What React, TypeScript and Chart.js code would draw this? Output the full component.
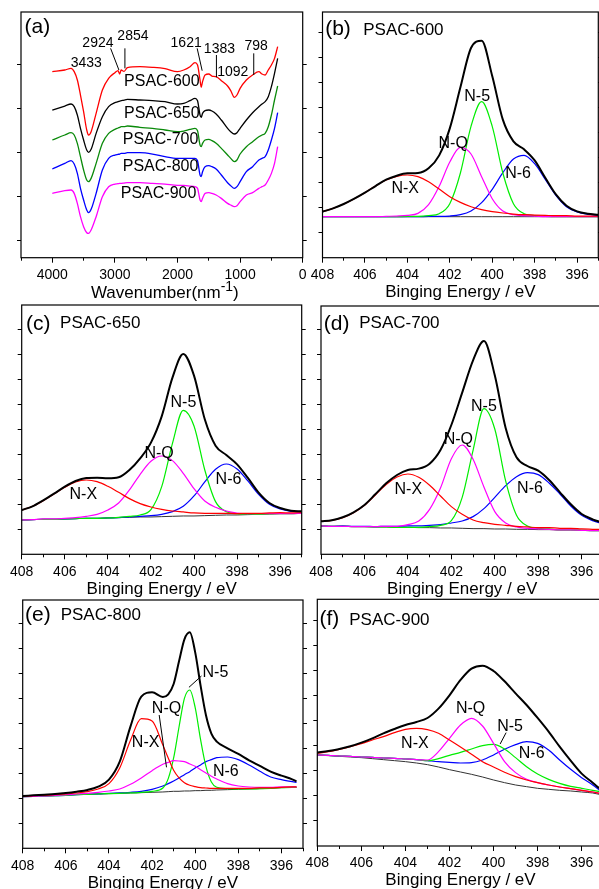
import React, { useEffect, useRef } from "react";
import { Chart, registerables } from "chart.js";
Chart.register(...registerables);

const FONT = "'Liberation Sans', Arial, Helvetica, sans-serif";

// ---------------- (a) FTIR ----------------
const ftirWavenumber = [4000, 3800, 3700, 3650, 3600, 3550, 3500, 3450, 3420, 3380, 3300, 3200, 3100, 3000, 2950, 2924, 2900, 2854, 2800, 2600, 2400, 2200, 2000, 1900, 1800, 1720, 1680, 1640, 1621, 1600, 1560, 1500, 1450, 1383, 1300, 1200, 1150, 1092, 1050, 1000, 900, 800, 700, 650, 600, 550, 500, 450, 400];
const ftirPSAC600 = [558, 563, 568, 558, 533, 488, 438, 383, 368, 378, 433, 503, 538, 555, 561, 551, 563, 559, 570, 573, 571, 567, 558, 563, 573, 585, 578, 533, 511, 528, 548, 551, 545, 543, 531, 515, 501, 481, 488, 508, 533, 548, 558, 551, 548, 563, 578, 598, 633];
const ftirPSAC650 = [443, 455, 461, 453, 428, 388, 353, 323, 316, 325, 373, 423, 453, 465, 468, 470, 471, 473, 475, 473, 471, 468, 461, 463, 471, 478, 471, 428, 421, 433, 441, 443, 440, 431, 413, 388, 378, 371, 375, 388, 413, 435, 453, 461, 468, 483, 513, 553, 598];
const ftirPSAC700 = [353, 368, 375, 368, 343, 303, 263, 233, 228, 238, 283, 343, 373, 385, 389, 391, 393, 393, 395, 391, 388, 383, 378, 380, 385, 388, 381, 338, 333, 343, 353, 355, 351, 343, 328, 308, 298, 288, 293, 311, 333, 348, 363, 368, 373, 393, 428, 473, 515];
const ftirPSAC800 = [266, 283, 291, 281, 253, 208, 173, 143, 135, 145, 193, 263, 298, 308, 310, 311, 313, 313, 315, 315, 311, 303, 298, 298, 298, 298, 291, 248, 243, 258, 273, 276, 273, 266, 248, 225, 216, 208, 213, 228, 258, 273, 293, 298, 303, 323, 353, 388, 435];
const ftirPSAC900 = [193, 201, 203, 193, 163, 123, 93, 75, 73, 83, 123, 183, 213, 221, 222, 223, 223, 224, 225, 225, 223, 221, 217, 217, 215, 213, 208, 173, 168, 178, 193, 195, 193, 188, 178, 163, 158, 153, 156, 168, 188, 195, 208, 213, 218, 233, 253, 283, 333];
const ftirMajorTicks = [0, 1000, 2000, 3000, 4000];
const ftirMinorTicks = [500, 1500, 2500, 3500, 4500];
const ftirYTicks = [53, 183, 316, 448, 580];

// ---------------- XPS N1s ----------------
const xpsMajorTicks = [396, 398, 400, 402, 404, 406, 408];
const xpsMinorTicks = [395, 397, 399, 401, 403, 405, 407];
const xpsEnergy = [408, 407.5, 407, 406.5, 406, 405.5, 405, 404.5, 404, 403.5, 403, 402.5, 402, 401.5, 401, 400.5, 400, 399.5, 399, 398.5, 398, 397.5, 397, 396.5, 396, 395.5, 395];

// (b) PSAC-600
const p600Envelope = [138, 148, 161, 177, 195, 215, 234, 246, 253, 254, 268, 307, 388, 511, 629, 651, 545, 414, 349, 325, 292, 240, 190, 156, 139, 132, 129];
const p600NX = [138, 148, 161, 177, 195, 215, 233, 244, 248, 243, 228, 206, 183, 166, 153, 144, 138, 134, 131, 129, 128, 127, 126, 126, 125, 125, 125];
const p600NQ = [123, 123, 123, 123, 123, 123, 124, 125, 127, 133, 159, 214, 287, 331, 311, 243, 177, 140, 129, 126, 125, 123, 123, 123, 123, 123, 123];
const p600N5 = [123, 123, 123, 123, 123, 123, 123, 123, 124, 124, 126, 132, 162, 254, 394, 468, 394, 254, 162, 132, 126, 124, 123, 123, 123, 123, 123];
const p600N6 = [123, 123, 123, 123, 123, 123, 123, 123, 123, 123, 124, 124, 125, 129, 140, 165, 205, 255, 296, 307, 282, 235, 187, 153, 137, 130, 127];
const p600Base = [123, 123, 123, 123, 123, 123, 123, 123, 123, 123, 123, 123, 123, 123, 123, 123, 123, 123, 123, 123, 123, 123, 123, 123, 123, 123, 123];

// (c) PSAC-650
const p650Envelope = [133, 144, 162, 182, 203, 220, 229, 230, 228, 231, 253, 288, 335, 414, 530, 601, 536, 405, 326, 298, 270, 229, 185, 154, 139, 131, 129];
const p650NX = [133, 144, 161, 181, 201, 217, 223, 218, 204, 186, 167, 152, 142, 135, 130, 127, 124, 123, 123, 123, 122, 123, 123, 124, 125, 124, 125];
const p650NQ = [103, 104, 106, 106, 108, 110, 114, 120, 133, 154, 193, 240, 279, 295, 281, 243, 197, 160, 141, 130, 124, 122, 122, 122, 122, 122, 123];
const p650N5 = [103, 104, 105, 105, 106, 107, 108, 108, 109, 111, 114, 118, 134, 203, 333, 432, 385, 253, 158, 128, 122, 121, 120, 121, 122, 122, 123];
const p650N6 = [103, 104, 105, 105, 106, 107, 108, 108, 109, 110, 112, 114, 116, 120, 128, 144, 175, 217, 255, 271, 256, 220, 180, 150, 136, 129, 127];
const p650Base = [103, 104, 105, 105, 106, 107, 108, 108, 109, 110, 111, 112, 112, 113, 114, 115, 115, 116, 117, 118, 118, 119, 120, 121, 122, 122, 123];

// (d) PSAC-700
const p700Envelope = [99, 102, 111, 126, 148, 180, 213, 238, 253, 257, 272, 313, 388, 485, 582, 640, 537, 379, 291, 265, 251, 223, 186, 150, 121, 105, 94];
const p700NX = [99, 102, 110, 125, 147, 178, 209, 232, 241, 231, 207, 175, 143, 120, 103, 95, 90, 87, 84, 82, 80, 80, 78, 78, 76, 75, 74];
const p700NQ = [85, 84, 84, 83, 83, 83, 84, 84, 89, 100, 135, 199, 287, 328, 285, 202, 128, 94, 82, 78, 76, 75, 73, 73, 72, 71, 71];
const p700N5 = [85, 84, 84, 83, 83, 82, 82, 81, 81, 81, 83, 87, 101, 171, 312, 437, 376, 220, 117, 85, 78, 76, 73, 73, 72, 71, 71];
const p700N6 = [85, 84, 85, 84, 84, 83, 84, 84, 85, 85, 87, 89, 94, 100, 113, 137, 171, 206, 233, 245, 239, 214, 181, 145, 117, 101, 91];
const p700Base = [85, 84, 84, 83, 83, 82, 82, 81, 81, 80, 80, 79, 79, 78, 77, 77, 76, 76, 75, 75, 74, 74, 73, 73, 72, 71, 71];

// (e) PSAC-800
const xpsEnergy800 = [408, 407.5, 407, 406.5, 406, 405.5, 405, 404.5, 404, 403.5, 403, 402.5, 402, 401.5, 401.25, 401, 400.75, 400.5, 400.25, 400, 399.75, 399.5, 399.25, 399, 398.5, 398, 397.5, 397, 396.5, 396, 395.5, 395.3];
const p800Envelope = [157, 159, 161, 163, 166, 170, 175, 185, 206, 260, 366, 455, 468, 454, 462, 493, 561, 627, 648, 588, 488, 399, 344, 320, 300, 283, 264, 247, 230, 218, 207, 201];
const p800NX = [156, 158, 159, 161, 163, 166, 170, 178, 194, 241, 324, 389, 382, 310, 271, 234, 211, 197, 189, 185, 182, 181, 180, 180, 180, 180, 180, 181, 181, 183, 184, 184];
const p800NQ = [155, 156, 157, 159, 160, 163, 165, 168, 172, 178, 192, 211, 233, 252, 258, 263, 262, 260, 253, 246, 236, 226, 216, 208, 194, 187, 184, 183, 183, 184, 184, 184];
const p800N5 = [155, 156, 157, 158, 159, 161, 162, 163, 164, 165, 166, 168, 171, 181, 209, 271, 364, 450, 475, 422, 326, 245, 199, 183, 179, 178, 178, 179, 180, 182, 183, 183];
const p800N6 = [155, 156, 157, 158, 159, 161, 162, 163, 165, 166, 168, 171, 177, 187, 194, 202, 211, 221, 230, 241, 250, 260, 266, 272, 274, 266, 250, 231, 214, 206, 200, 198];
const p800Base = [155, 156, 157, 158, 159, 161, 162, 163, 164, 165, 166, 167, 168, 169, 170, 171, 171, 172, 172, 173, 173, 174, 174, 175, 176, 177, 178, 179, 180, 182, 183, 183];

// (f) PSAC-900
const xpsEnergy900 = [408, 407.5, 407, 406.5, 406, 405.5, 405, 404.5, 404, 403.5, 403, 402.5, 402, 401.5, 401, 400.5, 400, 399.5, 399, 398.5, 398, 397.5, 397, 396.5, 396, 395.5, 395.2];
const p900Envelope = [280, 285, 291, 299, 310, 323, 338, 351, 363, 372, 384, 412, 452, 498, 532, 541, 525, 494, 458, 423, 384, 343, 298, 256, 217, 190, 173];
const p900NX = [278, 283, 290, 298, 307, 318, 328, 340, 350, 353, 349, 338, 318, 297, 275, 253, 237, 221, 208, 198, 190, 183, 177, 172, 167, 162, 158];
const p900NQ = [273, 272, 270, 269, 267, 266, 264, 263, 261, 259, 258, 283, 323, 363, 383, 360, 308, 253, 220, 200, 190, 183, 177, 172, 167, 162, 158];
const p900N5 = [273, 272, 270, 269, 267, 266, 264, 263, 261, 259, 256, 262, 272, 281, 291, 301, 305, 291, 265, 238, 216, 200, 188, 179, 173, 167, 163];
const p900N6 = [273, 272, 270, 269, 267, 266, 264, 263, 261, 259, 256, 253, 251, 249, 250, 258, 273, 290, 304, 313, 308, 288, 258, 230, 205, 183, 168];
const p900Base = [273, 271, 269, 267, 265, 262, 259, 256, 253, 249, 244, 237, 229, 222, 215, 207, 198, 190, 183, 178, 173, 170, 167, 165, 162, 159, 155];

// ---------------- helpers ----------------
const pts = (xs: number[], ys: number[]) => xs.map((x, i) => ({ x, y: ys[i] }));

const line = (xs: number[], ys: number[], color: string, width: number) => ({
  data: pts(xs, ys),
  borderColor: color,
  backgroundColor: color,
  borderWidth: width,
  pointRadius: 0,
  fill: false,
  cubicInterpolationMode: "monotone",
  xAxisID: "x",
  yAxisID: "y",
});

const xpsSets = (xs: number[], env: number[], nx: number[], nq: number[], n5: number[], n6: number[], base: number[]) => [
  line(xs, env, "#000000", 2),
  line(xs, nx, "#ff0000", 1.2),
  line(xs, nq, "#ff00ff", 1.2),
  line(xs, n5, "#00ee00", 1.2),
  line(xs, n6, "#0000ff", 1.2),
  line(xs, base, "#333333", 1),
];

type Txt = { x: number; y: number; text: string; size: number; align?: CanvasTextAlign };
type Ln = { x1: number; y1: number; x2: number; y2: number };

type PanelCfg = {
  rect: { L: number; T: number; R: number; B: number };
  xMin: number;
  xMax: number;
  xMajor: number[];
  xMinor: number[];
  yMax: number;
  yTicks: number[];
  datasets: any[];
  title: string | null;
  supTitle?: boolean;
  texts: Txt[];
  lines: Ln[];
};

const xpsYTicks = [75, 150, 225, 300, 375, 450, 525, 600, 675];
const XPS_TITLE = "Binging Energy / eV";

const panels: PanelCfg[] = [
  {
    rect: { L: 21, T: 12, R: 302.7, B: 257.7 },
    xMin: 0, xMax: 4500, xMajor: ftirMajorTicks, xMinor: ftirMinorTicks,
    yMax: 737, yTicks: ftirYTicks,
    datasets: [
      line(ftirWavenumber, ftirPSAC600, "#ff0000", 1.3),
      line(ftirWavenumber, ftirPSAC650, "#000000", 1.3),
      line(ftirWavenumber, ftirPSAC700, "#0a8a0a", 1.3),
      line(ftirWavenumber, ftirPSAC800, "#0000ff", 1.3),
      line(ftirWavenumber, ftirPSAC900, "#ff00ff", 1.3),
    ],
    title: null, supTitle: true,
    texts: [
      { x: 4239, y: 690, text: "(a)", size: 21 },
      { x: 3457, y: 585, text: "3433", size: 14 },
      { x: 3271, y: 643, text: "2924", size: 14 },
      { x: 2712, y: 666, text: "2854", size: 14 },
      { x: 1862, y: 645, text: "1621", size: 14 },
      { x: 1330, y: 625, text: "1383", size: 14 },
      { x: 1117, y: 558, text: "1092", size: 14 },
      { x: 745, y: 635, text: "798", size: 14 },
      { x: 2250, y: 528, text: "PSAC-600", size: 16 },
      { x: 2250, y: 431, text: "PSAC-650", size: 16 },
      { x: 2271, y: 353, text: "PSAC-700", size: 16 },
      { x: 2271, y: 273, text: "PSAC-800", size: 16 },
      { x: 2303, y: 193, text: "PSAC-900", size: 16 },
    ],
    lines: [
      { x1: 3069, y1: 628, x2: 2936, y2: 563 },
      { x1: 2840, y1: 628, x2: 2840, y2: 568 },
      { x1: 1686, y1: 628, x2: 1606, y2: 561 },
      { x1: 1378, y1: 608, x2: 1378, y2: 541 },
      { x1: 782, y1: 613, x2: 782, y2: 548 },
    ],
  },
  {
    rect: { L: 322.5, T: 12, R: 598.3, B: 257.7 },
    xMin: 395, xMax: 408, xMajor: xpsMajorTicks, xMinor: xpsMinorTicks,
    yMax: 737, yTicks: xpsYTicks,
    datasets: xpsSets(xpsEnergy, p600Envelope, p600NX, p600NQ, p600N5, p600N6, p600Base),
    title: XPS_TITLE,
    texts: [
      { x: 407.27, y: 684, text: "(b)", size: 21 },
      { x: 406.08, y: 682, text: "PSAC-600", size: 17, align: "left" },
      { x: 404.1, y: 208, text: "N-X", size: 16 },
      { x: 401.84, y: 343, text: "N-Q", size: 16 },
      { x: 400.71, y: 483, text: "N-5", size: 16 },
      { x: 398.78, y: 253, text: "N-6", size: 16 },
    ],
    lines: [],
  },
  {
    rect: { L: 21.7, T: 305, R: 301.7, B: 554.3 },
    xMin: 395, xMax: 408, xMajor: xpsMajorTicks, xMinor: xpsMinorTicks,
    yMax: 748, yTicks: xpsYTicks,
    datasets: xpsSets(xpsEnergy, p650Envelope, p650NX, p650NQ, p650N5, p650N6, p650Base),
    title: XPS_TITLE,
    texts: [
      { x: 407.23, y: 691, text: "(c)", size: 21 },
      { x: 406.22, y: 693, text: "PSAC-650", size: 17, align: "left" },
      { x: 405.14, y: 178, text: "N-X", size: 16 },
      { x: 401.62, y: 301, text: "N-Q", size: 16 },
      { x: 400.49, y: 455, text: "N-5", size: 16 },
      { x: 398.4, y: 223, text: "N-6", size: 16 },
    ],
    lines: [],
  },
  {
    rect: { L: 321, T: 306, R: 603.4, B: 554.3 },
    xMin: 395, xMax: 408, xMajor: xpsMajorTicks, xMinor: xpsMinorTicks,
    yMax: 745, yTicks: xpsYTicks,
    datasets: xpsSets(xpsEnergy, p700Envelope, p700NX, p700NQ, p700N5, p700N6, p700Base),
    title: XPS_TITLE,
    texts: [
      { x: 407.28, y: 691, text: "(d)", size: 21 },
      { x: 406.24, y: 693, text: "PSAC-700", size: 17, align: "left" },
      { x: 403.98, y: 193, text: "N-X", size: 16 },
      { x: 401.68, y: 343, text: "N-Q", size: 16 },
      { x: 400.5, y: 443, text: "N-5", size: 16 },
      { x: 398.38, y: 196, text: "N-6", size: 16 },
    ],
    lines: [],
  },
  {
    rect: { L: 22.7, T: 600, R: 303, B: 848.3 },
    xMin: 395, xMax: 408, xMajor: xpsMajorTicks, xMinor: xpsMinorTicks,
    yMax: 745, yTicks: xpsYTicks,
    datasets: xpsSets(xpsEnergy800, p800Envelope, p800NX, p800NQ, p800N5, p800N6, p800Base),
    title: XPS_TITLE,
    texts: [
      { x: 407.3, y: 699, text: "(e)", size: 21 },
      { x: 406.24, y: 698, text: "PSAC-800", size: 17, align: "left" },
      { x: 402.3, y: 317, text: "N-X", size: 16 },
      { x: 401.33, y: 420, text: "N-Q", size: 16 },
      { x: 399.06, y: 527, text: "N-5", size: 16 },
      { x: 398.58, y: 230, text: "N-6", size: 16 },
    ],
    lines: [
      { x1: 401.67, y1: 400, x2: 401.33, y2: 243 },
      { x1: 399.71, y1: 517, x2: 400.29, y2: 483 },
    ],
  },
  {
    rect: { L: 317.3, T: 599.3, R: 603.7, B: 846 },
    xMin: 395, xMax: 408, xMajor: xpsMajorTicks, xMinor: xpsMinorTicks,
    yMax: 740, yTicks: xpsYTicks,
    datasets: xpsSets(xpsEnergy900, p900Envelope, p900NX, p900NQ, p900N5, p900N6, p900Base),
    title: XPS_TITLE,
    texts: [
      { x: 407.45, y: 680, text: "(f)", size: 21 },
      { x: 406.55, y: 678, text: "PSAC-900", size: 17, align: "left" },
      { x: 403.57, y: 306, text: "N-X", size: 16 },
      { x: 401.04, y: 413, text: "N-Q", size: 16 },
      { x: 399.25, y: 358, text: "N-5", size: 16 },
      { x: 398.27, y: 278, text: "N-6", size: 16 },
    ],
    lines: [{ x1: 399.43, y1: 340, x2: 399.7, y2: 306 }],
  },
];

const ML = 24; // canvas margin left/right
const MT = 8; // canvas margin top
const XH = 52; // bottom axis height
const YW = 5; // side axis width

function makeAnnot(cfg: PanelCfg) {
  return {
    id: "annot",
    afterDatasetsDraw(chart: any) {
      const { ctx, chartArea: a, scales } = chart;
      const xs = scales.x;
      const ys = scales.y;
      ctx.save();
      ctx.strokeStyle = "#000";
      ctx.lineWidth = 1.2;
      ctx.strokeRect(a.left, a.top, a.right - a.left, a.bottom - a.top);
      ctx.lineWidth = 1;
      for (const l of cfg.lines) {
        ctx.beginPath();
        ctx.moveTo(xs.getPixelForValue(l.x1), ys.getPixelForValue(l.y1));
        ctx.lineTo(xs.getPixelForValue(l.x2), ys.getPixelForValue(l.y2));
        ctx.stroke();
      }
      ctx.fillStyle = "#000";
      ctx.textBaseline = "middle";
      for (const t of cfg.texts) {
        ctx.font = `${t.size}px ${FONT}`;
        ctx.textAlign = t.align || "center";
        ctx.fillText(t.text, xs.getPixelForValue(t.x), ys.getPixelForValue(t.y));
      }
      if (cfg.supTitle) {
        const base = a.bottom + 40;
        const main = "Wavenumber(nm";
        const sup = "-1";
        const close = ")";
        ctx.textBaseline = "alphabetic";
        ctx.textAlign = "left";
        ctx.font = `17px ${FONT}`;
        const w1 = ctx.measureText(main).width;
        const w3 = ctx.measureText(close).width;
        ctx.font = `14px ${FONT}`;
        const w2 = ctx.measureText(sup).width;
        const cx = (a.left + a.right) / 2 + 3;
        let x = cx - (w1 + w2 + w3) / 2;
        ctx.font = `17px ${FONT}`;
        ctx.fillText(main, x, base);
        x += w1;
        ctx.font = `14px ${FONT}`;
        ctx.fillText(sup, x, base - 7);
        x += w2;
        ctx.font = `17px ${FONT}`;
        ctx.fillText(close, x, base);
      }
      ctx.restore();
    },
  };
}

function Panel({ cfg }: { cfg: PanelCfg }) {
  const ref = useRef<HTMLCanvasElement | null>(null);
  const { L, T, R, B } = cfg.rect;
  const cLeft = Math.floor(L) - ML;
  const cTop = Math.floor(T) - MT;
  const cWidth = Math.ceil(R - cLeft) + ML;
  const cHeight = Math.ceil(B - cTop) + XH;

  useEffect(() => {
    const padLeft = L - cLeft - YW;
    const padRight = cWidth - (R - cLeft) - YW;
    const padTop = T - cTop;
    const padBottom = cHeight - XH - (B - cTop);
    const sideAxis = (pos: string) => ({
      type: "linear",
      position: pos,
      min: 0,
      max: cfg.yMax,
      afterBuildTicks: (s: any) => {
        s.ticks = cfg.yTicks.map((v) => ({ value: v }));
      },
      ticks: { display: false },
      grid: { drawOnChartArea: false, drawTicks: true, tickLength: 4, color: "#000", lineWidth: 1 },
      border: { display: false },
      afterFit: (s: any) => {
        s.width = YW;
        s.paddingTop = 0;
        s.paddingBottom = 0;
      },
    });
    const chart = new Chart(ref.current as HTMLCanvasElement, {
      type: "line",
      data: { datasets: cfg.datasets },
      options: {
        responsive: false,
        maintainAspectRatio: false,
        animation: false,
        events: [],
        layout: { padding: { left: padLeft, right: padRight, top: padTop, bottom: padBottom } },
        plugins: { legend: { display: false }, tooltip: { enabled: false }, title: { display: false } },
        scales: {
          xMinor: {
            type: "linear",
            position: "bottom",
            weight: -10,
            reverse: true,
            min: cfg.xMin,
            max: cfg.xMax,
            afterBuildTicks: (s: any) => {
              s.ticks = cfg.xMinor.map((v) => ({ value: v }));
            },
            ticks: { display: false },
            grid: { drawOnChartArea: false, drawTicks: true, tickLength: 3, color: "#000", lineWidth: 1 },
            border: { display: false },
            afterFit: (s: any) => {
              s.height = 0;
              s.paddingLeft = 0;
              s.paddingRight = 0;
            },
          },
          x: {
            type: "linear",
            position: "bottom",
            weight: 0,
            reverse: true,
            min: cfg.xMin,
            max: cfg.xMax,
            afterBuildTicks: (s: any) => {
              s.ticks = cfg.xMajor.map((v) => ({ value: v }));
            },
            ticks: {
              autoSkip: false,
              maxRotation: 0,
              minRotation: 0,
              padding: 4,
              color: "#000",
              font: { family: FONT, size: 14 },
              callback: (v: any) => String(v),
            },
            grid: { drawOnChartArea: false, drawTicks: true, tickLength: 5, color: "#000", lineWidth: 1 },
            border: { display: false },
            title: {
              display: !!cfg.title,
              text: cfg.title || "",
              color: "#000",
              font: { family: FONT, size: 17 },
              padding: { top: 0, bottom: 7 },
            },
            afterFit: (s: any) => {
              s.height = XH;
              s.paddingLeft = 0;
              s.paddingRight = 0;
            },
          },
          y: sideAxis("left"),
          y2: sideAxis("right"),
        },
      } as any,
      plugins: [makeAnnot(cfg)],
    } as any);
    return () => chart.destroy();
  }, []);

  return (
    <canvas
      ref={ref}
      width={cWidth}
      height={cHeight}
      style={{ position: "absolute", left: cLeft, top: cTop, width: cWidth, height: cHeight }}
    />
  );
}

export default function App() {
  return (
    <div
      style={{
        position: "absolute",
        left: 0,
        top: 0,
        width: 599,
        height: 889,
        overflow: "hidden",
        background: "#fff",
      }}
    >
      {panels.map((p, i) => (
        <Panel key={i} cfg={p} />
      ))}
    </div>
  );
}
